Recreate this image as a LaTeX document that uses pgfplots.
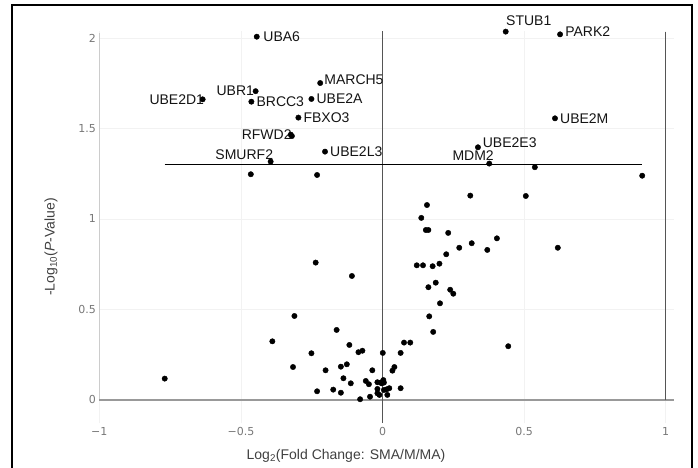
\documentclass[border=0pt]{standalone}
\usepackage{fontspec}
\setmainfont{Liberation Sans}
\newfontfamily\tickfont{DejaVu Sans}
\usepackage{pgfplots}
\pgfplotsset{compat=1.18}
\definecolor{tickgray}{HTML}{777777}
\definecolor{zerogray}{HTML}{555555}
\definecolor{axgray}{HTML}{999999}
\definecolor{yaxgray}{HTML}{CCCCCC}

\tikzset{lab/.style={font=\fontsize{14}{16}\selectfont, text=black!92, inner sep=0pt}}

\begin{document}
\begin{tikzpicture}
\useasboundingbox (0,0) rectangle (698pt,468pt);
% outer frame
\draw[line width=1.8pt] (12.3pt,-3pt) -- (12.3pt,463pt) -- (691.7pt,463pt) -- (691.7pt,-3pt);

\begin{axis}[
  x=283.2pt, y=181pt,
  xmin=-1, xmax=1.03, ymin=-0.13, ymax=2.04,
  at={(99.3pt,44.5pt)}, anchor=south west,
  axis line style={draw=none},
  major tick length=0pt,
  xtick={-1,-0.5,0,0.5,1}, xticklabels={−1,−0.5,0,0.5,1},
  ytick={0,0.5,1,1.5,2}, yticklabels={0,0.5,1,1.5,2},
  tick label style={font=\tickfont\fontsize{11}{13}\selectfont, text=tickgray},
  grid=major, grid style={gray!10, line width=0.8pt},
  clip=false,
]
% reference lines
\draw[yaxgray, line width=1.3pt] (axis cs:-1,0) -- (axis cs:-1,2.03);
\draw[axgray, line width=1.8pt] (axis cs:-1,0) -- (axis cs:1.03,0);
\draw[zerogray, line width=1.4pt] (axis cs:0,-0.127) -- (axis cs:0,2.04);
\draw[zerogray, line width=1.4pt] (axis cs:1,0) -- (axis cs:1,2.035);
\draw[black, line width=0.9pt] (axis cs:-0.769,1.301) -- (axis cs:0.917,1.301);

\addplot[only marks, mark=*, mark size=2.7pt, black] table {
x y
-0.444 2.007
-0.220 1.751
-0.448 1.706
-0.635 1.661
-0.463 1.648
-0.251 1.663
-0.297 1.560
-0.324 1.466
-0.320 1.458
-0.203 1.372
-0.395 1.317
-0.465 1.247
-0.231 1.243
0.435 2.035
0.627 2.020
0.609 1.556
0.337 1.396
0.377 1.306
0.538 1.286
0.917 1.239
0.310 1.129
0.506 1.127
0.157 1.077
0.137 1.006
0.153 0.939
0.162 0.939
0.232 0.923
0.404 0.893
0.315 0.866
0.271 0.841
0.370 0.829
0.619 0.841
0.225 0.805
0.121 0.744
0.143 0.744
0.177 0.739
0.201 0.753
0.188 0.648
0.162 0.623
0.239 0.609
0.250 0.587
0.203 0.534
0.165 0.462
0.179 0.376
0.444 0.297
0.076 0.317
0.098 0.317
0.001 0.260
0.064 0.260
0.042 0.182
0.035 0.162
0.003 0.110
0.005 0.096
-0.003 0.092
0.024 0.065
0.064 0.065
0.005 0.055
0.017 0.028
-0.236 0.759
-0.108 0.685
-0.311 0.464
-0.162 0.387
-0.389 0.324
-0.117 0.304
-0.085 0.264
-0.071 0.272
-0.251 0.258
-0.316 0.182
-0.147 0.184
-0.126 0.197
-0.201 0.164
-0.036 0.164
-0.769 0.118
-0.138 0.120
-0.112 0.092
-0.059 0.105
-0.048 0.087
-0.018 0.098
-0.006 0.096
-0.231 0.048
-0.174 0.057
-0.147 0.040
-0.018 0.061
-0.018 0.037
0.015 0.059
-0.044 0.018
-0.079 0.004
-0.011 0.028
};

% gene labels
\node[lab, anchor=west, xshift=6.5pt] at (axis cs:-0.444,2.007) {UBA6};
\node[lab, anchor=west, xshift=4pt, yshift=3pt] at (axis cs:-0.220,1.751) {MARCH5};
\node[lab, anchor=west, xshift=5pt] at (axis cs:-0.251,1.663) {UBE2A};
\node[lab, anchor=west, xshift=5pt] at (axis cs:-0.463,1.648) {BRCC3};
\node[lab, anchor=west, xshift=5pt] at (axis cs:-0.297,1.560) {FBXO3};
\node[lab, anchor=west, xshift=5pt] at (axis cs:-0.203,1.372) {UBE2L3};
\node[lab, anchor=west, xshift=5pt] at (axis cs:0.609,1.556) {UBE2M};
\node[lab, anchor=west, xshift=5pt, yshift=2.5pt] at (axis cs:0.627,2.020) {PARK2};
\node[lab, anchor=west, xshift=0.3pt, yshift=11pt] at (axis cs:0.435,2.035) {STUB1};
\node[lab, anchor=west, xshift=4.7pt, yshift=5pt] at (axis cs:0.337,1.396) {UBE2E3};
\node[lab, anchor=east, xshift=4.7pt, yshift=8pt] at (axis cs:0.377,1.306) {MDM2};
\node[lab, anchor=east, xshift=1.5pt] at (axis cs:-0.635,1.661) {UBE2D1};
\node[lab, anchor=east, xshift=-1.5pt] at (axis cs:-0.448,1.706) {UBR1};
\node[lab, anchor=east, xshift=1pt] at (axis cs:-0.324,1.466) {RFWD2};
\node[lab, anchor=east, xshift=2.6pt, yshift=6.7pt] at (axis cs:-0.395,1.317) {SMURF2};
\end{axis}

\node[font=\fontsize{14}{16}\selectfont, text=black!75] at (346pt,12pt) {Log\textsubscript{2}(Fold Change: SMA/M/MA)};
\node[font=\fontsize{14}{16}\selectfont, text=black!75, rotate=90] at (51pt,221pt) {-Log\textsubscript{10}(\textit{P}-Value)};
\end{tikzpicture}
\end{document}
